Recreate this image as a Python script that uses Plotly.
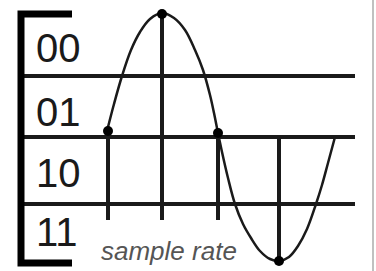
import plotly.graph_objects as go

# quantisation levels
level_labels = ["00", "01", "10", "11"]
level_label_y = [48, 112, 173, 232]
level_lines_y = [76, 137, 204]
line_x_start, line_x_end = 22, 355

# analog waveform (y downwards)
curve_x = [107, 114, 122, 131, 140, 150, 162, 174, 185, 195, 203, 210, 214, 218,
           222, 228, 235, 243, 251, 260, 270, 279, 289, 298, 307, 316, 322, 328, 335]
curve_y = [131, 104, 76, 50, 32, 19, 13, 18, 30, 50, 70, 95, 113, 133,
           152, 178, 204, 224, 238, 251, 259, 261, 257, 246, 229, 204, 185, 163, 137]

# samples
sample_x = [108, 162, 218, 279]
sample_y = [131, 14, 133, 261]
stem_top = [131, 14, 133, 137]
stem_bottom = [220, 220, 220, 261]

# bracket
bracket_x = [72, 21, 21, 72]
bracket_y = [14, 14, 263, 263]

axis_label = "sample rate"

fig = go.Figure()

# horizontal level lines
hx, hy = [], []
for y in level_lines_y:
    hx += [line_x_start, line_x_end, None]
    hy += [y, y, None]
fig.add_trace(go.Scatter(x=hx, y=hy, mode="lines",
                         line=dict(color="#1a1a1a", width=4), hoverinfo="skip"))

# bracket
fig.add_trace(go.Scatter(x=bracket_x, y=bracket_y, mode="lines",
                         line=dict(color="#000000", width=7), hoverinfo="skip"))

# stems
sx, sy = [], []
for x, t, b in zip(sample_x, stem_top, stem_bottom):
    sx += [x, x, None]
    sy += [t, b, None]
fig.add_trace(go.Scatter(x=sx, y=sy, mode="lines",
                         line=dict(color="#1a1a1a", width=4), hoverinfo="skip"))

# waveform
fig.add_trace(go.Scatter(x=curve_x, y=curve_y, mode="lines",
                         line=dict(color="#1a1a1a", width=2.5, shape="spline", smoothing=1.0),
                         hoverinfo="skip"))

# sample dots
fig.add_trace(go.Scatter(x=sample_x, y=sample_y, mode="markers",
                         marker=dict(color="#000000", size=10), hoverinfo="skip"))

# level labels
for lab, y in zip(level_labels, level_label_y):
    fig.add_annotation(x=34, y=y, text=lab, showarrow=False, xanchor="left", yanchor="middle",
                       font=dict(family="Liberation Sans, Arial", size=40, color="#1a1a1a"))

fig.add_annotation(x=99, y=251, text="<i>" + axis_label + "</i>", showarrow=False,
                   xanchor="left", yanchor="middle",
                   font=dict(family="Liberation Sans, Arial", size=26, color="#555555"))

# right border
fig.add_shape(type="line", x0=373, x1=373, y0=0, y1=271, xref="x", yref="y",
              line=dict(color="#c0c0c0", width=2))

fig.update_layout(width=376, height=271, margin=dict(l=0, r=0, t=0, b=0),
                  paper_bgcolor="white", plot_bgcolor="white", showlegend=False,
                  xaxis=dict(range=[0, 376], visible=False, fixedrange=True),
                  yaxis=dict(range=[271, 0], visible=False, fixedrange=True))

fig.write_html("out.html", config={"displayModeBar": False},
               post_script="document.body.style.margin='0';document.body.style.overflow='hidden';")
